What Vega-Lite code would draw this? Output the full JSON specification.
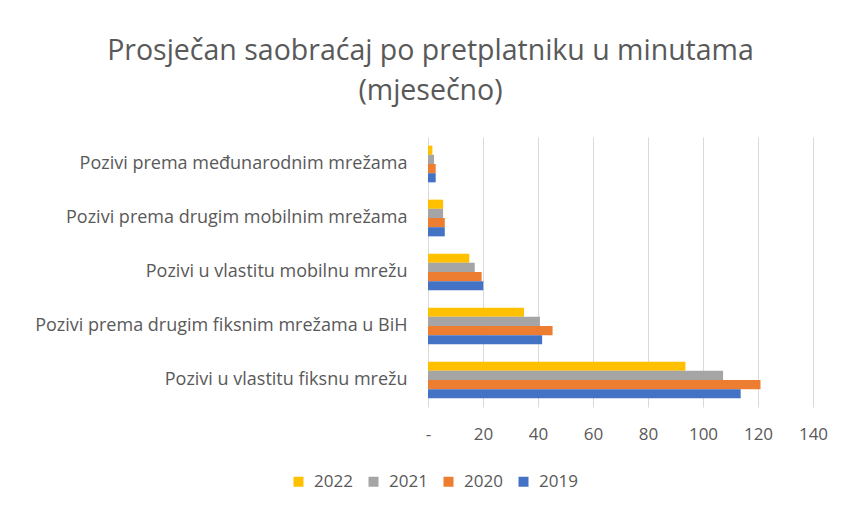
{
  "$schema": "https://vega.github.io/schema/vega-lite/v6.json",
  "autosize": "none",
  "width": 385,
  "height": 270,
  "padding": {"left": 428, "top": 137, "right": 36, "bottom": 102},
  "background": "white",
  "config": {
    "font": "Open Sans",
    "view": {"stroke": null},
    "axis": {"labelColor": "#595959", "labelFont": "Open Sans", "labelFontSize": 16, "domain": false, "ticks": false}
  },
  "title": {
    "text": ["Prosječan saobraćaj po pretplatniku u minutama", "(mjesečno)"],
    "anchor": "middle",
    "frame": "group",
    "dx": -190,
    "offset": 32,
    "fontSize": 28.5,
    "fontWeight": "normal",
    "color": "#595959",
    "font": "Open Sans",
    "lineHeight": 40
  },
  "data": {
    "values": [
      {"category": "Pozivi prema međunarodnim mrežama", "year": "2022", "value": 1.6},
      {"category": "Pozivi prema međunarodnim mrežama", "year": "2021", "value": 2.2},
      {"category": "Pozivi prema međunarodnim mrežama", "year": "2020", "value": 2.8},
      {"category": "Pozivi prema međunarodnim mrežama", "year": "2019", "value": 2.8},
      {"category": "Pozivi prema drugim mobilnim mrežama", "year": "2022", "value": 5.5},
      {"category": "Pozivi prema drugim mobilnim mrežama", "year": "2021", "value": 5.5},
      {"category": "Pozivi prema drugim mobilnim mrežama", "year": "2020", "value": 6.1},
      {"category": "Pozivi prema drugim mobilnim mrežama", "year": "2019", "value": 6.1},
      {"category": "Pozivi u vlastitu mobilnu mrežu", "year": "2022", "value": 15.0},
      {"category": "Pozivi u vlastitu mobilnu mrežu", "year": "2021", "value": 17.0},
      {"category": "Pozivi u vlastitu mobilnu mrežu", "year": "2020", "value": 19.5},
      {"category": "Pozivi u vlastitu mobilnu mrežu", "year": "2019", "value": 20.1},
      {"category": "Pozivi prema drugim fiksnim mrežama u BiH", "year": "2022", "value": 34.9},
      {"category": "Pozivi prema drugim fiksnim mrežama u BiH", "year": "2021", "value": 40.7},
      {"category": "Pozivi prema drugim fiksnim mrežama u BiH", "year": "2020", "value": 45.3},
      {"category": "Pozivi prema drugim fiksnim mrežama u BiH", "year": "2019", "value": 41.5},
      {"category": "Pozivi u vlastitu fiksnu mrežu", "year": "2022", "value": 93.6},
      {"category": "Pozivi u vlastitu fiksnu mrežu", "year": "2021", "value": 107.3},
      {"category": "Pozivi u vlastitu fiksnu mrežu", "year": "2020", "value": 120.9},
      {"category": "Pozivi u vlastitu fiksnu mrežu", "year": "2019", "value": 113.7}
    ]
  },
  "mark": {"type": "bar"},
  "encoding": {
    "y": {
      "field": "category",
      "type": "nominal",
      "sort": ["Pozivi prema međunarodnim mrežama", "Pozivi prema drugim mobilnim mrežama", "Pozivi u vlastitu mobilnu mrežu", "Pozivi prema drugim fiksnim mrežama u BiH", "Pozivi u vlastitu fiksnu mrežu"],
      "scale": {"paddingInner": 0.32, "paddingOuter": 0.16},
      "axis": {"title": null, "grid": false, "labelPadding": 21, "labelLimit": 500, "labelFontSize": 18}
    },
    "yOffset": {
      "field": "year",
      "type": "nominal",
      "sort": ["2022", "2021", "2020", "2019"],
      "scale": {"paddingInner": 0, "paddingOuter": 0}
    },
    "x": {
      "field": "value",
      "type": "quantitative",
      "scale": {"domain": [0, 140], "nice": false},
      "axis": {
        "title": null,
        "values": [0, 20, 40, 60, 80, 100, 120, 140],
        "grid": true,
        "gridColor": "#d9d9d9",
        "gridWidth": 1,
        "labelPadding": 19,
        "labelFontSize": 17,
        "labelFlush": false,
        "labelExpr": "datum.value == 0 ? '-' : datum.label"
      }
    },
    "color": {
      "field": "year",
      "type": "nominal",
      "sort": ["2022", "2021", "2020", "2019"],
      "scale": {"domain": ["2022", "2021", "2020", "2019"], "range": ["#FFC000", "#A5A5A5", "#ED7D31", "#4472C4"]},
      "legend": {
        "title": null,
        "orient": "none",
        "direction": "horizontal",
        "legendX": -138,
        "legendY": 336,
        "symbolType": "square",
        "symbolSize": 100,
        "symbolStrokeWidth": 0,
        "labelFontSize": 17,
        "labelColor": "#595959",
        "labelFont": "Open Sans",
        "labelOffset": 7,
        "columnPadding": 12
      }
    }
  }
}
